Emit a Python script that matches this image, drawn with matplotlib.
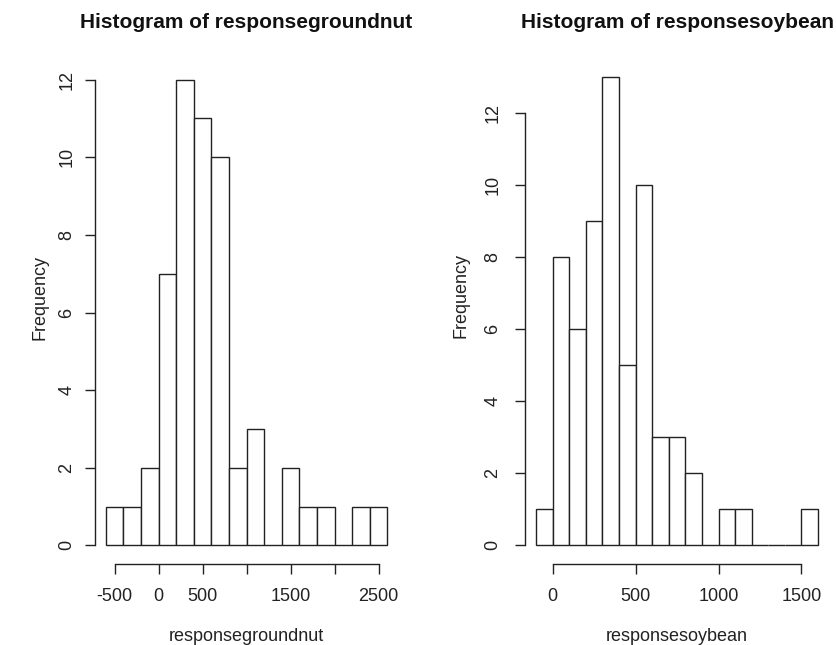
import numpy as np
import matplotlib
matplotlib.use("Agg")
import matplotlib.pyplot as plt

plt.rcParams['font.family'] = ['Liberation Sans', 'DejaVu Sans']

# groundnut histogram: bin edges (width 200) and counts
groundnut_edges = [-600, -400, -200, 0, 200, 400, 600, 800, 1000, 1200,
                   1400, 1600, 1800, 2000, 2200, 2400, 2600]
groundnut_counts = [1, 1, 2, 7, 12, 11, 10, 2, 3, 0, 2, 1, 1, 0, 1, 1]
groundnut_xticks = [-500, 0, 500, 1000, 1500, 2000, 2500]
groundnut_xlabels = ['-500', '0', '500', '', '1500', '', '2500']

# soybean histogram: bin edges (width 100) and counts
soybean_edges = [-100, 0, 100, 200, 300, 400, 500, 600, 700, 800, 900,
                 1000, 1100, 1200, 1300, 1400, 1500, 1600]
soybean_counts = [1, 8, 6, 9, 13, 5, 10, 3, 3, 2, 0, 1, 1, 0, 0, 0, 1]
soybean_xticks = [0, 500, 1000, 1500]
soybean_xlabels = ['0', '500', '1000', '1500']

yticks = [0, 2, 4, 6, 8, 10, 12]

W, H = 837, 645
fig = plt.figure(figsize=(W / 100, H / 100), dpi=100)
INK = '#222222'


def draw_hist(rect, edges, counts, xticks, xlabels, title, xlabel,
              ypad, ylab_x):
    ax = fig.add_axes(rect)
    edges = np.array(edges, dtype=float)
    ax.bar(edges[:-1], counts, width=np.diff(edges), align='edge',
           facecolor='white', edgecolor=INK, linewidth=1.0)
    # R style 4% padding
    span = edges[-1] - edges[0]
    ax.set_xlim(edges[0] - 0.04 * span, edges[-1] + 0.04 * span)
    top = max(counts)
    ax.set_ylim(-0.04 * top, top * 1.04)
    for s in ['top', 'right']:
        ax.spines[s].set_visible(False)
    ax.spines['bottom'].set_bounds(xticks[0], xticks[-1])
    ax.spines['left'].set_bounds(0, 12)
    for s in ['bottom', 'left']:
        ax.spines[s].set_linewidth(1.0)
        ax.spines[s].set_color(INK)
    ax.set_xticks(xticks)
    ax.set_xticklabels(xlabels)
    ax.set_yticks(yticks)
    ax.tick_params(axis='both', direction='out', length=7, width=1.0,
                   color=INK, labelsize=13, labelcolor=INK)
    ax.tick_params(axis='x', pad=10)
    ax.tick_params(axis='y', pad=ypad, labelrotation=90)
    for lab in ax.get_yticklabels():
        lab.set_verticalalignment('center')
    ax.set_xlabel(xlabel, fontsize=13, labelpad=17, color=INK)
    ax.set_ylabel('Frequency', fontsize=13, color=INK)
    ax.yaxis.set_label_coords(ylab_x, 0.53)
    pos = ax.get_position()
    fig.text(pos.x0 + pos.width / 2, 1 - 28 / H, title, fontsize=15,
             fontweight='bold', color='#111111', ha='center', va='baseline')
    return ax


ax1 = draw_hist([94.6 / W, 1 - 564 / H, 304 / W, 503 / H],
                groundnut_edges, groundnut_counts, groundnut_xticks,
                groundnut_xlabels, 'Histogram of responsegroundnut',
                'responsegroundnut', 7, -0.153)
ax2 = draw_hist([524.8 / W, 1 - 564 / H, 304.5 / W, 506 / H],
                soybean_edges, soybean_counts, soybean_xticks,
                soybean_xlabels, 'Histogram of responsesoybean',
                'responsesoybean', 10, -0.18)

fig.savefig('out.png', dpi=100)
